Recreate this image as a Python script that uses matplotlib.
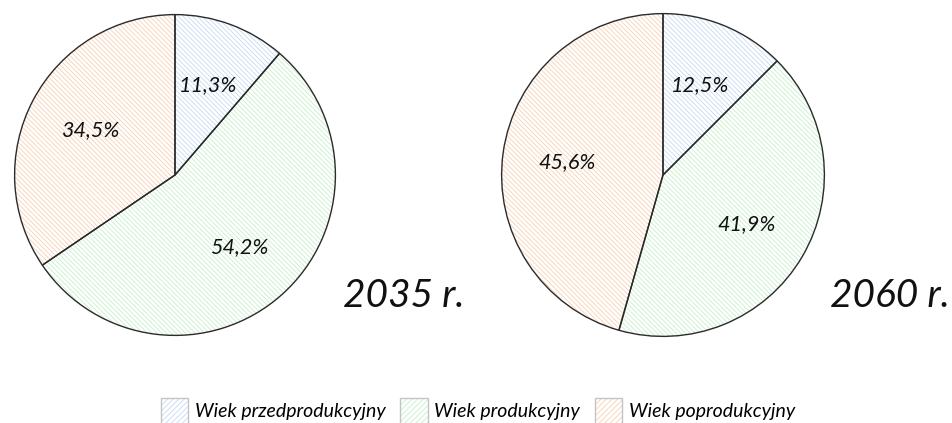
import matplotlib.pyplot as plt
from matplotlib.patches import Patch

plt.rcParams['font.family'] = ['Lato', 'DejaVu Sans']
plt.rcParams['hatch.linewidth'] = 0.6

categories = ['Wiek przedprodukcyjny', 'Wiek produkcyjny', 'Wiek poprodukcyjny']
years = ['2035 r.', '2060 r.']
values_2035 = [11.3, 54.2, 34.5]
values_2060 = [12.5, 41.9, 45.6]
hatch_colors = ['#c4daf4', '#c6efc9', '#f9d0b0']
edge = '#2b2b2b'

W, H = 952, 423
fig = plt.figure(figsize=(W / 100, H / 100), dpi=100)
fig.patch.set_facecolor('white')

def pie_axes(cx, cy, r):
    return fig.add_axes([(cx - r) / W, (H - cy - r) / H, 2 * r / W, 2 * r / H])

def fmt(v):
    return f'{v:.1f}%'.replace('.', ',')

def draw_pie(ax, vals, year, yx, yy):
    # hatched fill layer
    wedges, _ = ax.pie(vals, startangle=90, counterclock=False,
                       wedgeprops=dict(facecolor='white', linewidth=0))
    for w, c in zip(wedges, hatch_colors):
        w.set_edgecolor(c)
        w.set_hatch('\\' * 7)
    # outline layer with labels
    ax.pie(vals, startangle=90, counterclock=False, autopct=fmt,
           pctdistance=0.6,
           wedgeprops=dict(fill=False, edgecolor=edge, linewidth=1.0),
           textprops=dict(fontsize=15.5, style='italic', color='#111111'))
    ax.set_xlim(-1.01, 1.01)
    ax.set_ylim(-1.01, 1.01)
    ax.set_aspect('auto')
    ax.axis('off')
    fig.text(yx / W, 1 - yy / H, year, fontsize=28, style='italic',
             ha='left', va='center', color='#111111')

ax1 = pie_axes(175, 175, 162)
draw_pie(ax1, values_2035, years[0], 343, 296)
ax2 = pie_axes(663, 175, 163)
draw_pie(ax2, values_2060, years[1], 830, 296)

# legend swatches: hatched patch with a light gray border on top
handles = []
for c in hatch_colors:
    hatched = Patch(facecolor='white', edgecolor=c, hatch='/' * 6, linewidth=0)
    border = Patch(fill=False, edgecolor='#c4c4c4', linewidth=1.0)
    handles.append((hatched, border))

fig.legend(handles, categories, loc='center', bbox_to_anchor=(478 / W, 1 - 411 / H),
           ncol=3, frameon=False, handlelength=1.4, handleheight=1.65,
           handletextpad=0.35, columnspacing=0.75,
           prop=dict(family=['Lato', 'DejaVu Sans'], style='italic', size=14))

fig.savefig('out.png', dpi=100, facecolor='white')
